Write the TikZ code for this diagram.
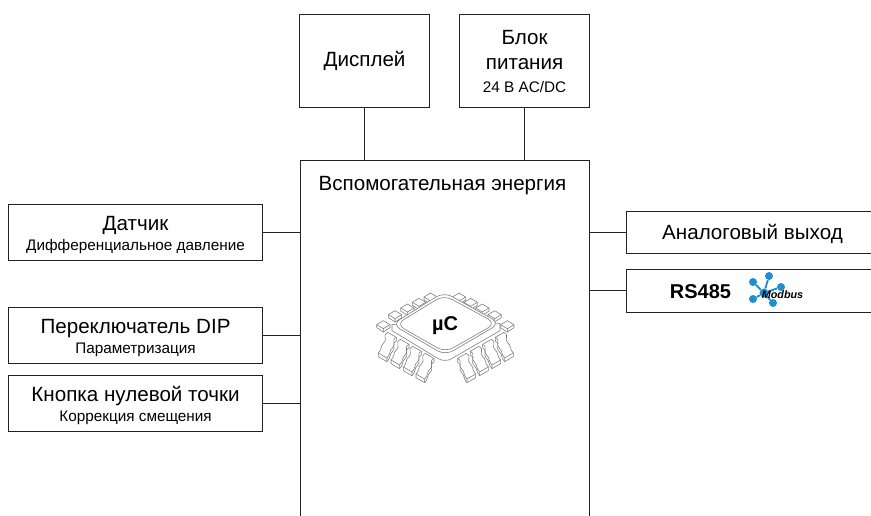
\documentclass[tikz,border=0pt]{standalone}
\usepackage{fontspec}
\setmainfont{Liberation Sans}
\definecolor{frame}{HTML}{222222}
\definecolor{chipline}{HTML}{808080}
\definecolor{mbblue}{HTML}{1E8FCF}
\newcommand{\bigsz}{\fontsize{20.6}{24}\selectfont}
\newcommand{\subsz}{\fontsize{15.3}{21}\selectfont}
\newcommand{\toprule}{\rule{0pt}{20pt}}
\tikzset{
  box/.style={draw=frame,line width=1.1pt,fill=white,inner sep=0pt,align=center,anchor=north west,text=black,font=\bigsz},
  wire/.style={draw=frame,line width=1.1pt},
  chip/.style={draw=chipline,line width=0.6pt,fill=white,line join=round},
  mbdot/.style={circle,fill=mbblue,inner sep=0pt},
  mblink/.style={draw=mbblue,line width=1.9pt},
}
\newcommand{\lowerpin}{%
  \path[chip] (-14,-8) .. controls (-32,2) and (-12,14) .. (-26,24) .. controls (-36,32) and (-30,42) .. (-42,54)
     -- (-42,65) -- (-16,80) .. controls (-4,68) and (-10,58) .. (0,50) .. controls (14,40) and (-6,28) .. (12,18) -- (12,7) -- cycle;
  \draw[chip,fill=none] (-42,54) -- (-16,69) -- (-16,80);
  \draw[chip,fill=none] (-16,69) .. controls (-4,57) and (-10,47) .. (0,39) .. controls (14,29) and (-6,17) .. (12,7);
}
\newcommand{\upperpin}{%
  \path[chip] (-20,-1) -- (0,-13) -- (20,-1) -- (20,8) -- (0,21) -- (-20,8) -- cycle;
  \draw[chip,fill=none] (-20,-1) -- (0,11) -- (20,-1) (0,11) -- (0,21);
}
\begin{document}
\begin{tikzpicture}[x=1pt,y=-1pt]
\useasboundingbox (0,0) rectangle (871,515);
\clip (0,0) rectangle (871,515);
% main block (open past the lower edge)
\node[box,minimum width=289.5pt,minimum height=380pt] (main) at (299.5,160) {};
\node[anchor=center,font=\bigsz] (title) at (442.5,186) {Вспомогательная энергия};
% top boxes
\node[box,minimum width=130pt,minimum height=93pt] (disp) at (299,14) {Дисплей};
\node[box,minimum width=130pt,minimum height=93pt] (psu) at (459,14) {Блок\\[1pt]питания\\[-1pt]\subsz 24 В AC/DC};
% left boxes
\node[box,minimum width=254pt,minimum height=56pt] (sens) at (8,204) {\toprule Датчик\\[-4pt]\subsz Дифференциальное давление};
\node[box,minimum width=254pt,minimum height=56pt] (dip) at (8,307) {\toprule Переключатель DIP\\[-4pt]\subsz Параметризация};
\node[box,minimum width=254pt,minimum height=56.5pt] (btn) at (8,374.5) {\toprule Кнопка нулевой точки\\[-4pt]\subsz Коррекция смещения};
% right boxes
\node[box,minimum width=255pt,minimum height=42pt] (aout) at (626,211) {};
\node[font=\bigsz] (aoutt) at (752.5,234) {Аналоговый выход};
\node[box,minimum width=255pt,minimum height=43.5pt] (rs) at (626,268.5) {};
\node[font=\fontsize{20}{22}\selectfont\bfseries] (rst) at (700.5,292) {RS485};
% connectors
\draw[wire] (disp.south) -- (disp.south |- main.north);
\draw[wire] (psu.south) -- (psu.south |- main.north);
\draw[wire] (sens.east) -- (sens.east -| main.west);
\draw[wire] (dip.east) -- (dip.east -| main.west);
\draw[wire] (btn.east) -- (btn.east -| main.west);
\draw[wire] (aout.west) -- (aout.west -| main.east);
\draw[wire] (rs.west) -- (rs.west -| main.east);
% Modbus logo
\node[mbdot,minimum size=9pt] (mc) at (764,293) {};
\node[mbdot,minimum size=8pt] (m1) at (769,276) {};
\node[mbdot,minimum size=8pt] (m2) at (753,282) {};
\node[mbdot,minimum size=8pt] (m3) at (781,287) {};
\node[mbdot,minimum size=8pt] (m4) at (753,299) {};
\node[mbdot,minimum size=8pt] (m5) at (773,303) {};
\foreach \n in {m1,m2,m3,m4,m5} \draw[mblink] (mc) -- (\n);
\node[font=\fontsize{10.8}{12}\selectfont\bfseries\itshape,inner sep=0pt,text=black] (mbt) at (782.5,295) {Modbus};
% chip drawn in reference crop coordinates
\begin{scope}[shift={(360,280)},x=0.3333pt,y=-0.3333pt]
  \foreach \px/\py in {212/52,177/68,142/85,105/105,70/135}
    {\begin{scope}[shift={(\px,\py)}]\upperpin\end{scope}}
  \foreach \px/\py in {297/52,332/68,367/85,404/105,442/135}
    {\begin{scope}[shift={(\px,\py)}]\upperpin\end{scope}}
  \foreach \px/\py in {97/165,135/186,172/207,210/228}
    {\begin{scope}[shift={(\px,\py)}]\lowerpin\end{scope}}
  \foreach \px/\py in {418/165,380/186,343/207,305/228}
    {\begin{scope}[shift={(\px,\py)},xscale=-1]\lowerpin\end{scope}}
  \path[chip] (96,133) -- (96,152) -- (235,236) .. controls (245,243) and (265,243) .. (275,236) -- (420,152) -- (420,130) -- cycle;
  \path[chip,rounded corners=9pt] (96,133) -- (252,36) -- (420,130) -- (256,226) -- cycle;
  \path[chip,rounded corners=9pt] (108,133) -- (252,45) -- (408,130) -- (256,217) -- cycle;
\end{scope}
\node[font=\fontsize{20}{22}\selectfont\bfseries] (uc) at (445,326) {µC};
\end{tikzpicture}
\end{document}
